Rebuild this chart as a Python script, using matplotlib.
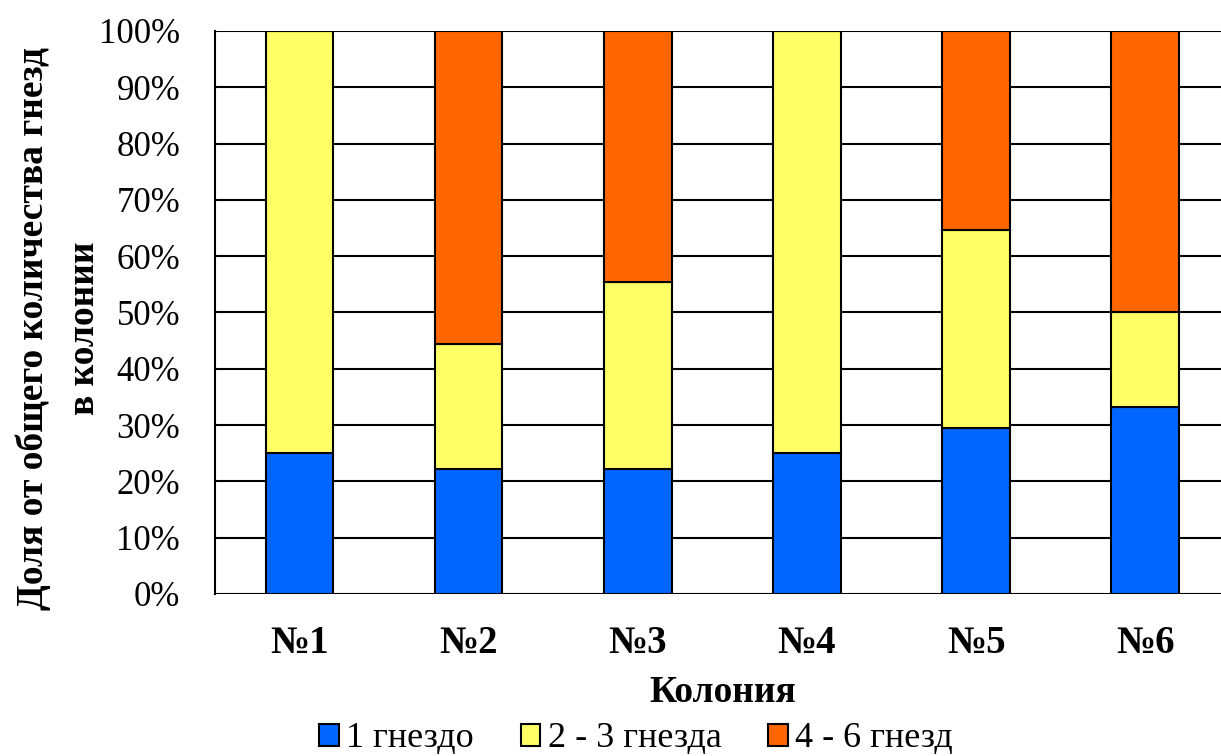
import numpy as np
import matplotlib.pyplot as plt

plt.rcParams['font.family'] = ['Liberation Serif', 'DejaVu Serif']

colonies = ['№1', '№2', '№3', '№4', '№5', '№6']
one_nest = [25.0, 22.2, 22.2, 25.0, 29.4, 33.3]
two_three = [75.0, 22.2, 33.3, 75.0, 35.3, 16.7]
four_six = [0.0, 55.6, 44.5, 0.0, 35.3, 50.0]
series_names = ['1 гнездо', '2 - 3 гнезда', '4 - 6 гнезд']
colors = ['#0066FF', '#FFFF66', '#FF6600']

fig = plt.figure(figsize=(12.21, 7.56), dpi=100)
ax = fig.add_axes([0.176, 0.2143, 0.8313, 0.7447])

x = np.arange(len(colonies))
bottom = np.zeros(len(colonies))
for vals, name, c in zip([one_nest, two_three, four_six], series_names, colors):
    vals = np.array(vals)
    ax.bar(x, vals, width=0.4, bottom=bottom, color=c, edgecolor='black',
           linewidth=1.5, label=name, zorder=3)
    bottom += vals

ax.set_xlim(-0.5, len(colonies) - 0.5)
ax.set_ylim(0, 100)
ax.set_yticks(np.arange(0, 101, 10))
ax.set_yticklabels([f'{v}%' for v in range(0, 101, 10)], fontsize=25)
ax.set_xticks(x)
ax.set_xticklabels(colonies, fontsize=28, fontweight='bold')
ax.tick_params(axis='x', length=0, pad=22)
ax.tick_params(axis='y', length=0, pad=25)
ax.grid(axis='y', color='black', linewidth=1.5, zorder=0)

for side in ['top', 'right', 'bottom']:
    ax.spines[side].set_visible(False)
ax.spines['left'].set_linewidth(1.5)

ax.set_xlabel('Колония', fontsize=27, fontweight='bold', labelpad=10)
ax.set_ylabel('Доля от общего количества гнезд\nв колонии', fontsize=27,
              fontweight='bold', labelpad=-2, linespacing=1.6, y=0.472)

fig.legend(loc='center', bbox_to_anchor=(636 / 1221, 1 - 739 / 756), ncol=3,
           frameon=False, fontsize=26, handlelength=0.55, handleheight=0.55,
           handletextpad=0.2, columnspacing=1.3, borderpad=0)

fig.savefig('out.png', dpi=100)
